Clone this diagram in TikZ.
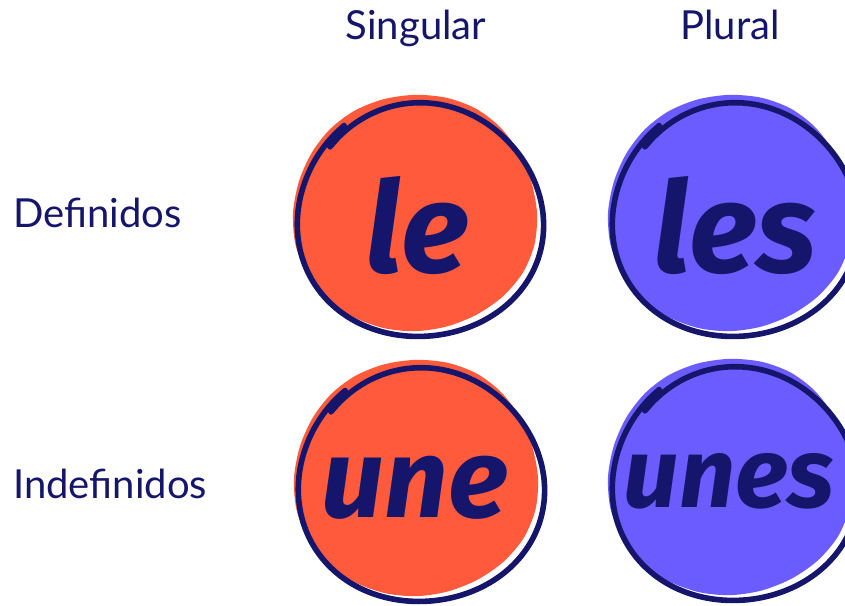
\documentclass[tikz,border=0pt]{standalone}
\usepackage{fontspec}
\setmainfont{Lato}
\newfontfamily\manofont{Fira Sans}
\definecolor{marino}{HTML}{15166B}
\definecolor{naranja}{HTML}{FF5A3C}
\definecolor{violeta}{HTML}{6B5CFF}
\tikzset{
  etiqueta/.style={text=marino, font=\fontsize{30}{30}\selectfont},
  palabra/.style={text=marino, font=\manofont\bfseries\itshape\fontsize{95}{95}\selectfont},
  palabrita/.style={palabra, font=\manofont\bfseries\itshape\fontsize{#1}{#1}\selectfont},
  borde/.style={draw=marino, line width=4.2pt, line cap=round, line join=round},
}
\begin{document}
\begin{tikzpicture}[x=0.75pt,y=-0.75pt]
    \useasboundingbox[fill=white] (0,0) rectangle (845,606);
    % Manchas
    \foreach \cx/\cy/\col in {421/220/naranja, 736/220/violeta, 422/485/naranja, 736/484/violeta}{
      \fill[\col] plot[smooth cycle, domain=0:345, samples=24]
        ({\cx-6+122*cos(\x)*(1+0.02*sin(3*\x))}, {\cy-7+120*sin(\x)*(1+0.02*cos(2*\x+40))});
      \draw[borde] plot[smooth, domain=220:592, samples=64]
        ({\cx+(120+5*(\x-220)/372)*cos(\x)*(1+0.015*sin(3*\x+20))},
         {\cy+(115+5*(\x-220)/372)*sin(\x)*(1+0.015*sin(3*\x+20))});
    }
    % Títulos
    \node[etiqueta, anchor=base] (sing) at (416,40) {Singular};
    \node[etiqueta, anchor=base] (plur) at (730,40) {Plural};
    \node[etiqueta, anchor=base west, inner sep=0pt] (def) at (13,227) {Definidos};
    \node[etiqueta, anchor=base west, inner sep=0pt] (indef) at (13,498) {Indefinidos};
    % Artículos
    \node[palabra, anchor=base] (le) at (417,272) {le};
    \node[palabra, anchor=base] (les) at (735,272) {les};
    \node[palabrita=84, anchor=base] (une) at (415,517) {une};
    \node[palabrita=74, anchor=base, inner sep=0pt] (unes) at (729,507) {unes};
\end{tikzpicture}
\end{document}
